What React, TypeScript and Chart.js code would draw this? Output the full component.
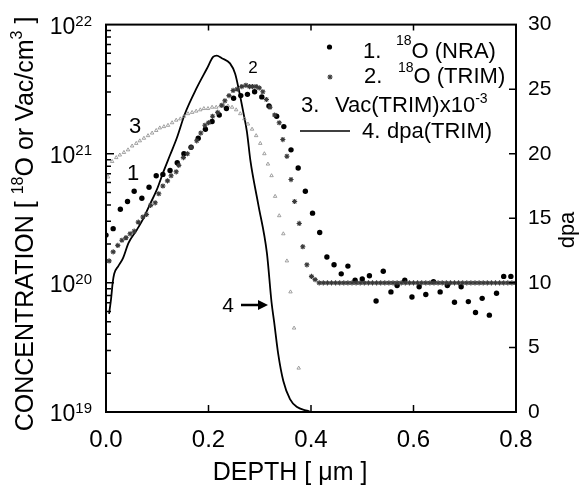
import React, { useEffect, useRef } from 'react';
import { Chart, registerables } from 'chart.js';

Chart.register(...registerables);

const FONT = '"Liberation Sans", Arial, Helvetica, sans-serif';

// 1. 18O (NRA) — depth [um], log10 concentration
const nraDepth = [0.000,0.014,0.028,0.042,0.055,0.070,0.084,0.098,0.111,0.125,0.139,0.152,0.166,0.180,0.194,0.207,0.221,0.235,0.249,0.263,0.276,0.290,0.304,0.318,0.333,0.347,0.361,0.375,0.389,0.403,0.417,0.431,0.445,0.459,0.472,0.486,0.500,0.514,0.527,0.541,0.556,0.568,0.583,0.597,0.611,0.624,0.639,0.652,0.666,0.680,0.693,0.707,0.721,0.734,0.748,0.762,0.776,0.790];
const nraLog = [20.37,20.42,20.57,20.63,20.71,20.655,20.74,20.83,20.84,20.87,20.93,21.00,21.05,21.12,21.19,21.25,21.30,21.35,21.43,21.45,21.46,21.48,21.44,21.37,21.29,21.21,21.03,20.89,20.71,20.54,20.39,20.20,20.14,20.07,20.13,20.02,20.03,20.055,19.86,20.09,19.93,19.98,20.02,19.89,19.97,19.91,20.01,19.93,19.98,19.85,19.97,19.855,19.77,19.88,19.75,19.92,20.05,20.05];

// 2. 18O (TRIM)
const trimDepth = [0.006,0.014,0.023,0.031,0.039,0.047,0.055,0.063,0.072,0.079,0.087,0.096,0.103,0.111,0.120,0.127,0.137,0.142,0.151,0.159,0.166,0.177,0.185,0.193,0.200,0.208,0.218,0.226,0.232,0.240,0.248,0.256,0.265,0.273,0.280,0.286,0.293,0.299,0.306,0.313,0.320,0.329,0.338,0.345,0.353,0.361,0.368,0.377,0.384,0.392,0.401,0.408,
  0.416,0.424,0.432,0.440,0.448,0.456,0.464,0.472,0.480,0.488,0.496,0.504,0.512,0.520,0.528,0.536,0.544,0.552,0.560,0.568,0.576,0.584,0.592,0.600,0.608,0.616,0.624,0.632,0.640,0.648,0.656,0.664,0.672,0.680,0.688,0.696,0.704,0.712,0.720,0.728,0.736,0.744,0.752,0.760,0.768,0.776,0.784,0.792,0.800];
const trimLog = [20.17,20.24,20.29,20.33,20.35,20.38,20.40,20.47,20.51,20.53,20.60,20.62,20.69,20.75,20.79,20.83,20.86,20.91,20.97,21.00,21.05,21.10,21.16,21.22,21.24,21.29,21.32,21.375,21.41,21.45,21.49,21.50,21.52,21.53,21.52,21.52,21.52,21.51,21.48,21.42,21.36,21.30,21.24,21.11,20.98,20.80,20.63,20.46,20.28,20.14,20.05,20.025,
  20.00,20.00,20.00,20.00,20.00,20.00,20.00,20.00,20.00,20.00,20.00,20.00,20.00,20.00,20.00,20.00,20.00,20.00,20.00,20.00,20.00,20.00,20.00,20.00,20.00,20.00,20.00,20.00,20.00,20.00,20.00,20.00,20.00,20.00,20.00,20.00,20.00,20.00,20.00,20.00,20.00,20.00,20.00,20.00,20.00,20.00,20.00,20.00,20.00];

// 3. Vac(TRIM) x 10^-3
const vacDepth = [0.004,0.012,0.020,0.027,0.035,0.043,0.051,0.059,0.066,0.074,0.082,0.090,0.098,0.105,0.113,0.121,0.129,0.137,0.145,0.152,0.160,0.168,0.176,0.184,0.191,0.199,0.207,0.215,0.223,0.230,0.238,0.246,0.254,0.262,0.270,0.277,0.285,0.293,0.301,0.309,0.316,0.323,0.330,0.338,0.346,0.353,0.360,0.367,0.376];
const vacLog = [20.82,20.94,20.97,20.99,21.01,21.03,21.06,21.08,21.10,21.12,21.14,21.16,21.18,21.20,21.21,21.22,21.24,21.26,21.27,21.29,21.31,21.32,21.33,21.34,21.35,21.35,21.36,21.36,21.37,21.37,21.37,21.36,21.34,21.31,21.27,21.23,21.19,21.14,21.08,21.00,20.92,20.83,20.67,20.52,20.38,20.17,19.93,19.65,19.34];

// 4. dpa (TRIM) — right axis
const dpaDepth = [0.006,0.010,0.013,0.016,0.024,0.033,0.044,0.060,0.073,0.086,0.099,0.112,0.125,0.138,0.154,0.177,0.197,0.209,0.216,0.226,0.242,0.252,0.260,0.268,0.275,0.282,0.297,0.314,0.323,0.328,0.336,0.346,0.359,0.372,0.392,0.400];
const dpaVal = [7.6,8.8,10.0,10.7,11.3,11.9,13.1,14.1,15.0,16.1,17.2,18.6,19.9,21.2,23.1,25.1,26.6,27.5,27.6,27.4,27.0,26.2,24.8,23.2,21.7,19.4,16.1,12.3,8.5,7.0,4.5,2.4,1.0,0.4,0.1,0.0];

const xTickValues = [0.2, 0.4, 0.6];
const dpaTickValues = [5, 10, 15, 20, 25];
const decadeExponents = [19, 20, 21, 22];

type Part = { text: string; size: number; dy?: number };

function drawRich(ctx: CanvasRenderingContext2D, parts: Part[], x: number, y: number, align: 'left' | 'center' | 'right') {
  let total = 0;
  const widths: number[] = [];
  for (const p of parts) {
    ctx.font = `${p.size}px ${FONT}`;
    const w = ctx.measureText(p.text).width;
    widths.push(w);
    total += w;
  }
  let cx = align === 'right' ? x - total : align === 'center' ? x - total / 2 : x;
  ctx.textAlign = 'left';
  ctx.textBaseline = 'alphabetic';
  parts.forEach((p, i) => {
    ctx.font = `${p.size}px ${FONT}`;
    ctx.fillText(p.text, cx, y + (p.dy || 0));
    cx += widths[i];
  });
}

const decorPlugin = {
  id: 'decor',
  afterDraw(chart: any) {
    const ctx: CanvasRenderingContext2D = chart.ctx;
    const { left, right, top, bottom } = chart.chartArea;
    const xs = chart.scales.x;
    const ys = chart.scales.y;
    const y2 = chart.scales.y2;
    ctx.save();
    ctx.fillStyle = '#000';
    ctx.strokeStyle = '#000';

    // frame
    ctx.lineWidth = 2;
    ctx.strokeRect(left, top, right - left, bottom - top);

    // x ticks (bottom up, top down)
    ctx.lineWidth = 1.5;
    ctx.beginPath();
    for (const v of xTickValues) {
      const px = xs.getPixelForValue(v);
      ctx.moveTo(px, bottom); ctx.lineTo(px, bottom - 7);
      ctx.moveTo(px, top); ctx.lineTo(px, top + 6);
    }
    // left log ticks
    for (const e of [19, 20, 21]) {
      for (let m = 1; m <= 9; m++) {
        const py = ys.getPixelForValue(m * Math.pow(10, e));
        const len = m === 1 ? 8 : 5;
        ctx.moveTo(left, py); ctx.lineTo(left + len, py);
      }
    }
    // right ticks
    for (const v of dpaTickValues) {
      const py = y2.getPixelForValue(v);
      ctx.moveTo(right, py); ctx.lineTo(right - 7, py);
    }
    ctx.stroke();

    // left tick labels 10^n
    for (const e of decadeExponents) {
      const py = ys.getPixelForValue(Math.pow(10, e));
      drawRich(ctx, [
        { text: '10', size: 23, dy: 9 },
        { text: String(e), size: 15, dy: 1 },
      ], 92, py, 'right');
    }

    // left title
    ctx.save();
    ctx.translate(33, 224);
    ctx.rotate(-Math.PI / 2);
    drawRich(ctx, [
      { text: 'CONCENTRATION [ ', size: 25 },
      { text: '18', size: 16, dy: -10 },
      { text: 'O or Vac/cm', size: 25 },
      { text: '3', size: 16, dy: -11 },
      { text: ' ]', size: 25 },
    ], 0, 0, 'center');
    ctx.restore();

    // right title
    ctx.save();
    ctx.translate(574, 230);
    ctx.rotate(-Math.PI / 2);
    drawRich(ctx, [{ text: 'dpa', size: 22 }], 0, 0, 'center');
    ctx.restore();

    // x title
    drawRich(ctx, [{ text: 'DEPTH [ \u03bcm ]', size: 25 }], 290, 480, 'center');

    // legend
    ctx.beginPath();
    ctx.arc(329.5, 47, 2.6, 0, Math.PI * 2);
    ctx.fill();
    // star marker
    ctx.save();
    ctx.strokeStyle = '#3a3a3a';
    ctx.lineWidth = 1.1;
    ctx.beginPath();
    const sx = 330, sy = 77, r = 2.6;
    ctx.moveTo(sx - r, sy); ctx.lineTo(sx + r, sy);
    ctx.moveTo(sx, sy - r); ctx.lineTo(sx, sy + r);
    ctx.moveTo(sx - r * 0.7, sy - r * 0.7); ctx.lineTo(sx + r * 0.7, sy + r * 0.7);
    ctx.moveTo(sx - r * 0.7, sy + r * 0.7); ctx.lineTo(sx + r * 0.7, sy - r * 0.7);
    ctx.stroke();
    ctx.restore();

    drawRich(ctx, [{ text: '1.', size: 22 }], 363, 58, 'left');
    drawRich(ctx, [{ text: '18', size: 14, dy: -13 }, { text: 'O (NRA)', size: 22 }], 396, 58, 'left');
    drawRich(ctx, [{ text: '2.', size: 22 }], 364, 83, 'left');
    drawRich(ctx, [{ text: '18', size: 14, dy: -11 }, { text: 'O (TRIM)', size: 22 }], 398, 83, 'left');
    drawRich(ctx, [{ text: '3.', size: 22 }], 301, 112, 'left');
    drawRich(ctx, [{ text: 'Vac(TRIM)x10', size: 22 }, { text: '-3', size: 14, dy: -9 }], 335, 112, 'left');
    ctx.lineWidth = 1.5;
    ctx.beginPath();
    ctx.moveTo(300, 131); ctx.lineTo(350, 131);
    ctx.stroke();
    drawRich(ctx, [{ text: '4.', size: 22 }], 362, 138, 'left');
    drawRich(ctx, [{ text: 'dpa(TRIM)', size: 22 }], 387, 138, 'left');

    // curve annotations
    drawRich(ctx, [{ text: '1', size: 22 }], 133, 180, 'center');
    drawRich(ctx, [{ text: '2', size: 17 }], 253, 73, 'center');
    drawRich(ctx, [{ text: '3', size: 22 }], 135, 133, 'center');
    drawRich(ctx, [{ text: '4', size: 21 }], 228, 312, 'center');
    ctx.lineWidth = 2.5;
    ctx.beginPath();
    ctx.moveTo(241, 305); ctx.lineTo(260, 305);
    ctx.stroke();
    ctx.beginPath();
    ctx.moveTo(268, 305); ctx.lineTo(258, 300); ctx.lineTo(258, 310); ctx.closePath();
    ctx.fill();

    ctx.restore();
  },
};

export default function App() {
  const canvasRef = useRef<HTMLCanvasElement | null>(null);

  useEffect(() => {
    const canvas = canvasRef.current;
    if (!canvas) return;
    const chart = new Chart(canvas, {
      type: 'scatter',
      data: {
        datasets: [
          {
            label: '2. 18O (TRIM)',
            data: trimDepth.map((d, i) => ({ x: d, y: Math.pow(10, trimLog[i]) })),
            yAxisID: 'y',
            showLine: false,
            pointStyle: 'star',
            pointRadius: 2.6,
            borderColor: '#3a3a3a',
            backgroundColor: '#3a3a3a',
            borderWidth: 1.1,
          },
          {
            label: '1. 18O (NRA)',
            data: nraDepth.map((d, i) => ({ x: d, y: Math.pow(10, nraLog[i]) })),
            yAxisID: 'y',
            showLine: false,
            pointStyle: 'circle',
            pointRadius: 2.7,
            borderWidth: 0,
            backgroundColor: '#000',
          },
          {
            label: '3. Vac(TRIM)x10-3',
            data: vacDepth.map((d, i) => ({ x: d, y: Math.pow(10, vacLog[i]) })),
            yAxisID: 'y',
            showLine: false,
            pointStyle: 'triangle',
            pointRadius: 2,
            borderWidth: 0.8,
            borderColor: '#8a8a8a',
            backgroundColor: 'rgba(0,0,0,0)',
          },
          {
            label: '4. dpa(TRIM)',
            data: dpaDepth.map((d, i) => ({ x: d, y: dpaVal[i] })),
            yAxisID: 'y2',
            showLine: true,
            pointRadius: 0,
            borderColor: '#000',
            borderWidth: 1.8,
            cubicInterpolationMode: 'monotone',
          },
        ],
      },
      options: {
        responsive: false,
        animation: false,
        layout: { padding: { top: 17, left: 0, right: 0, bottom: 0 } },
        plugins: { legend: { display: false }, tooltip: { enabled: false } },
        scales: {
          x: {
            type: 'linear',
            position: 'bottom',
            min: 0,
            max: 0.8,
            grid: { display: false, drawTicks: false },
            border: { display: false },
            ticks: {
              stepSize: 0.2,
              padding: 14,
              color: '#000',
              maxRotation: 0,
              font: { size: 24, family: FONT },
              callback: (v: any) => Number(v).toFixed(1),
            },
            afterFit: (s: any) => { s.height = 77; },
          },
          y: {
            type: 'logarithmic',
            position: 'left',
            min: 1e19,
            max: 1e22,
            grid: { display: false, drawTicks: false },
            border: { display: false },
            ticks: { display: false },
            afterFit: (s: any) => { s.width = 106; },
          },
          y2: {
            type: 'linear',
            position: 'right',
            min: 0,
            max: 30,
            grid: { display: false, drawTicks: false },
            border: { display: false },
            ticks: {
              stepSize: 5,
              padding: 12,
              color: '#000',
              font: { size: 21, family: FONT },
            },
            afterFit: (s: any) => { s.width = 65; },
          },
        },
      } as any,
      plugins: [decorPlugin],
    });
    return () => chart.destroy();
  }, []);

  return (
    <div style={{ position: 'absolute', left: 0, top: 0, width: 581, height: 489, background: '#fff' }}>
      <canvas ref={canvasRef} width={581} height={489} style={{ display: 'block' }} />
    </div>
  );
}
